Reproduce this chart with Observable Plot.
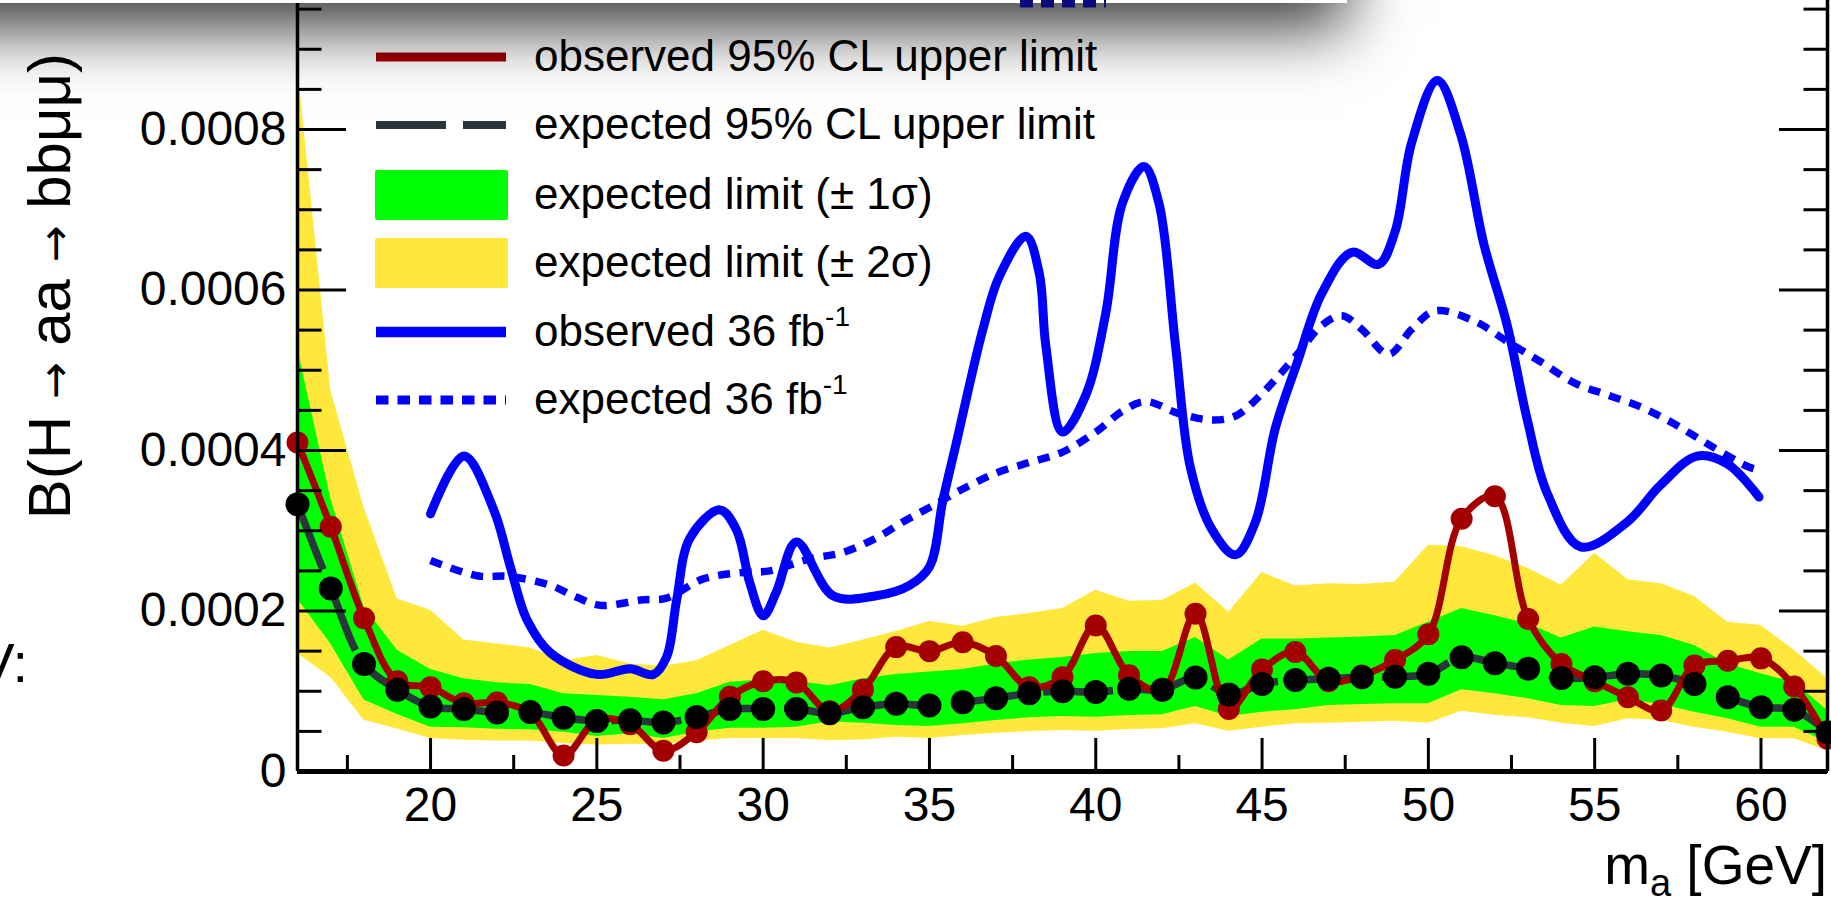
<!DOCTYPE html>
<html>
<head>
<meta charset="utf-8">
<script src="https://cdn.jsdelivr.net/npm/d3@7"></script>
<script src="https://cdn.jsdelivr.net/npm/@observablehq/plot@0.6"></script>
<style>
  html, body { margin: 0; padding: 0; background: #fff; overflow: hidden; }
  #wrap { position: relative; width: 1831px; height: 902px; overflow: hidden; background: #fff;
          font-family: "Liberation Sans", Arial, Helvetica, sans-serif; }
  #chart, #overlay, #topbits { position: absolute; left: 0; top: 0; }
  #shade { position: absolute; left: -100px; top: -200px; width: 1447px; height: 203px; background: #fff;
           box-shadow: 0 25px 62px 0 rgba(0,0,0,0.78); }
</style>
</head>
<body>
<div id="wrap">
  <div id="chart"></div>
  <svg id="overlay" width="1831" height="902"></svg>
  <div id="shade"></div>
  <svg id="topbits" width="1831" height="902"></svg>
</div>
<script>
// ---------------- data (values in units of 1e-4) ----------------
const SCALE = 1e-4;
const masses = [16,17,18,19,20,21,22,23,24,25,26,27,28,29,30,31,32,33,34,35,36,37,38,39,40,
                41,42,43,44,45,46,47,48,49,50,51,52,53,54,55,56,57,58,59,60,61,62];
const expectedLimit = [3.33,2.28,1.34,1.02,0.81,0.78,0.735,0.74,0.67,0.63,0.64,0.61,0.68,0.78,0.78,0.78,
                0.727,0.80,0.843,0.822,0.864,0.914,0.976,1.00,0.99,1.03,1.02,1.17,0.96,1.09,1.14,
                1.155,1.175,1.18,1.217,1.425,1.35,1.28,1.165,1.175,1.217,1.196,1.09,0.926,0.80,0.768,0.49];
const observedLimit = [4.10,3.05,1.91,1.125,1.05,0.85,0.86,0.73,0.20,0.64,0.59,0.26,0.49,0.93,1.125,1.11,
                0.75,1.02,1.55,1.50,1.61,1.44,1.05,1.175,1.82,1.20,1.01,1.965,0.78,1.27,1.49,
                1.125,1.196,1.39,1.71,3.15,3.43,1.90,1.34,1.125,0.926,0.76,1.32,1.38,1.41,1.06,0.41];
const band1Low = [2.15,1.59,0.89,0.71,0.55,0.545,0.525,0.52,0.49,0.436,0.47,0.41,0.49,0.54,0.54,0.55,
                0.62,0.60,0.573,0.56,0.594,0.636,0.669,0.685,0.677,0.698,0.706,0.81,0.685,0.739,0.769,
                0.822,0.835,0.843,0.843,1.02,0.968,0.906,0.822,0.81,0.893,0.835,0.739,0.656,0.552,0.552,0.36];
const band1High = [5.28,3.4,2.05,1.51,1.27,1.155,1.105,1.084,0.968,0.947,0.926,0.893,0.968,1.113,1.142,1.126,
                1.07,1.155,1.21,1.24,1.27,1.34,1.39,1.42,1.47,1.495,1.495,1.67,1.39,1.65,1.65,
                1.665,1.675,1.695,1.86,2.03,1.94,1.84,1.665,1.80,1.74,1.695,1.57,1.34,1.217,1.11,0.76];
const band2Low = [1.47,1.17,0.64,0.53,0.41,0.39,0.38,0.38,0.35,0.33,0.34,0.335,0.38,0.41,0.41,0.41,
                0.386,0.394,0.428,0.41,0.449,0.478,0.498,0.51,0.503,0.523,0.532,0.594,0.503,0.552,0.594,
                0.60,0.615,0.625,0.60,0.752,0.70,0.669,0.60,0.56,0.656,0.636,0.552,0.49,0.407,0.407,0.26];
const band2High = [8.8,4.75,3.29,2.15,2.01,1.64,1.59,1.54,1.38,1.445,1.34,1.31,1.38,1.57,1.76,1.61,
                1.54,1.64,1.745,1.87,1.81,1.92,1.97,2.03,2.26,2.12,2.13,2.35,1.985,2.48,2.31,
                2.34,2.33,2.36,2.82,2.80,2.69,2.53,2.32,2.72,2.39,2.34,2.18,1.86,1.82,1.51,1.155];

const obs36Mass  = [20.0,21.0,21.9,22.4,22.9,23.6,25.0,26.0,26.7,27.1,27.4,27.8,28.7,29.2,29.6,30.0,30.4,31.0,
                    32.1,33.4,34.4,35.0,35.4,35.8,36.6,37.1,37.9,38.3,38.5,39.0,39.7,40.3,40.8,41.45,41.9,
                    42.4,42.85,43.5,44.2,44.8,45.4,46.06,46.8,47.7,48.5,49.0,49.5,50.27,50.97,51.67,52.37,
                    52.97,53.57,54.58,55.98,56.98,58.08,59.0,59.94];
const obs36Value = [3.21,3.93,3.26,2.55,1.89,1.48,1.21,1.28,1.21,1.43,2.14,2.91,3.26,3.01,2.35,1.94,2.24,2.86,
                    2.19,2.19,2.32,2.55,3.37,4.08,5.5,6.17,6.67,6.21,5.30,4.23,4.69,5.71,7.08,7.54,7.08,
                    5.30,3.78,3.01,2.70,3.11,4.28,5.10,5.96,6.47,6.32,6.73,7.84,8.61,7.94,6.57,5.56,
                    4.39,3.47,2.80,3.11,3.57,3.93,3.83,3.42];
const exp36Mass  = [20.0,21.4,22.4,23.6,24.4,25.1,26.4,27.1,28.2,29.4,30.2,31.4,32.4,33.4,34.2,35.0,36.0,37.0,
                    38.0,39.0,40.0,40.8,41.5,42.5,43.5,44.2,45.0,46.06,46.8,47.4,48.0,48.8,49.5,50.2,51.4,
                    52.4,53.4,54.4,55.4,56.4,57.4,58.4,59.6,59.9];
const exp36Value = [2.63,2.44,2.43,2.32,2.17,2.07,2.14,2.16,2.40,2.48,2.50,2.65,2.73,2.91,3.11,3.29,3.52,3.72,
                    3.85,3.98,4.23,4.49,4.61,4.46,4.38,4.43,4.71,5.20,5.56,5.68,5.51,5.20,5.51,5.74,5.61,
                    5.35,5.10,4.84,4.69,4.54,4.33,4.08,3.80,3.76];

const yMajorTicks = [0, 2, 4, 6, 8];
const yMinorTicks = [0.5,1,1.5,2.5,3,3.5,4.5,5,5.5,6.5,7,7.5,8.5,9,9.5];
const xMajorTicks = [20,25,30,35,40,45,50,55,60];
const xMinorTicks = [17.5,22.5,27.5,32.5,37.5,42.5,47.5,52.5,57.5];

const legendLabels = ["observed 95% CL upper limit", "expected 95% CL upper limit",
                      "expected limit (\u00b1 1\u03c3)", "expected limit (\u00b1 2\u03c3)",
                      "observed 36 fb", "expected 36 fb"];

// ---------------- tables ----------------
const rows = masses.map((m, i) => ({m, exp: expectedLimit[i], obs: observedLimit[i],
  lo1: band1Low[i], hi1: band1High[i], lo2: band2Low[i], hi2: band2High[i]}));
const obs36 = obs36Mass.map((m, i) => ({m, v: obs36Value[i]}));
const exp36 = exp36Mass.map((m, i) => ({m, v: exp36Value[i]}));

const FONT = '"Liberation Sans", Arial, Helvetica, sans-serif';
const RED = "#a40000", DARK = "#29363b", GREEN = "#00ff00", YELLOW = "#ffe83b", BLUE = "#0000ff";
const fmt = v => v === 0 ? "0" : (v * SCALE).toFixed(4);

const chart = Plot.plot({
  width: 1831, height: 902,
  marginLeft: 297, marginRight: 4, marginTop: 0, marginBottom: 131,
  x: {domain: [16, 62]},
  y: {domain: [0, 9.6075]},
  style: {fontFamily: FONT, fontSize: "48px", background: "transparent", overflow: "visible"},
  marks: [
    Plot.areaY(rows, {x: "m", y1: "lo2", y2: "hi2", fill: YELLOW}),
    Plot.areaY(rows, {x: "m", y1: "lo1", y2: "hi1", fill: GREEN}),
    Plot.line(obs36, {x: "m", y: "v", stroke: BLUE, strokeWidth: 9, curve: "catmull-rom"}),
    Plot.line(exp36, {x: "m", y: "v", stroke: BLUE, strokeWidth: 7.5, strokeDasharray: "12,9.5",
                      strokeLinecap: "butt", strokeLinejoin: "miter", curve: "catmull-rom"}),
    Plot.line(rows, {x: "m", y: "exp", stroke: DARK, strokeWidth: 7.5, strokeDasharray: "70,17",
                     strokeLinecap: "butt", curve: "catmull-rom"}),
    Plot.line(rows, {x: "m", y: "obs", stroke: RED, strokeWidth: 7, curve: "catmull-rom"}),
    Plot.dot(rows, {x: "m", y: "obs", r: 11, fill: RED}),
    Plot.dot(rows, {x: "m", y: "exp", r: 12, fill: "#000"}),
    // frame
    Plot.ruleX([16], {stroke: "#000", strokeWidth: 3.5}),
    Plot.ruleX([62], {stroke: "#000", strokeWidth: 3.5}),
    Plot.ruleY([0], {stroke: "#000", strokeWidth: 5}),
    // inward ticks
    Plot.axisY({ticks: yMajorTicks, anchor: "left", tickSize: 49, dx: 49, strokeWidth: 3, tickFormat: () => "", label: null}),
    Plot.axisY({ticks: yMinorTicks, anchor: "left", tickSize: 24.5, dx: 24.5, strokeWidth: 3, tickFormat: () => "", label: null}),
    Plot.axisY({ticks: yMajorTicks, anchor: "right", tickSize: 49, dx: -49, strokeWidth: 3, tickFormat: () => "", label: null}),
    Plot.axisY({ticks: yMinorTicks, anchor: "right", tickSize: 24.5, dx: -24.5, strokeWidth: 3, tickFormat: () => "", label: null}),
    Plot.axisX({ticks: xMajorTicks, anchor: "bottom", tickSize: 33, dy: -33, strokeWidth: 3, tickFormat: () => "", label: null}),
    Plot.axisX({ticks: xMinorTicks, anchor: "bottom", tickSize: 16, dy: -16, strokeWidth: 3, tickFormat: () => "", label: null}),
    // tick labels
    Plot.axisY({ticks: yMajorTicks, anchor: "left", tickSize: 0, tickPadding: 11, tickFormat: fmt, fontSize: 48, fill: "#000", label: null}),
    Plot.axisX({ticks: xMajorTicks, anchor: "bottom", tickSize: 0, tickPadding: 15, tickFormat: d => String(d), fontSize: 48, fill: "#000", label: null})
  ]
});
document.getElementById("chart").appendChild(chart);

// ---------------- overlay: titles + legend ----------------
const ov = d3.select("#overlay").attr("font-family", FONT);

// y title (rotated, top-aligned)
const yt = ov.append("text")
  .attr("transform", "translate(70,53) rotate(-90)")
  .attr("text-anchor", "end")
  .attr("font-size", 60);
yt.append("tspan").text("B(H ");
yt.append("tspan").attr("font-family", "DejaVu Sans").attr("font-size", 44).text("\u2192");
yt.append("tspan").text(" aa ");
yt.append("tspan").attr("font-family", "DejaVu Sans").attr("font-size", 44).text("\u2192");
yt.append("tspan").text(" bb\u03bc\u03bc)");

// x title
const xt = ov.append("text").attr("x", 1827).attr("y", 884).attr("text-anchor", "end").attr("font-size", 55);
xt.append("tspan").text("m");
xt.append("tspan").attr("font-size", 38).attr("dy", 12).text("a");
xt.append("tspan").attr("dy", -12).text(" [GeV]");

// clipped text at left edge
ov.append("text").attr("x", 28).attr("y", 682).attr("text-anchor", "end").attr("font-size", 56).text("GeV:");

// legend
const rowY = [57, 125, 195, 263, 332, 400];
const lx0 = 376, lx1 = 506, tx = 534;
ov.append("line").attr("x1", lx0).attr("x2", lx1).attr("y1", rowY[0]).attr("y2", rowY[0])
  .attr("stroke", RED).attr("stroke-width", 9);
ov.append("line").attr("x1", lx0).attr("x2", lx1).attr("y1", rowY[1]).attr("y2", rowY[1])
  .attr("stroke", DARK).attr("stroke-width", 8).attr("stroke-dasharray", "70,17");
ov.append("rect").attr("x", 375).attr("y", rowY[2] - 25).attr("width", 133).attr("height", 50).attr("rx", 2).attr("fill", GREEN);
ov.append("rect").attr("x", 375).attr("y", rowY[3] - 25).attr("width", 133).attr("height", 50).attr("rx", 2).attr("fill", YELLOW);
ov.append("line").attr("x1", lx0).attr("x2", lx1).attr("y1", rowY[4]).attr("y2", rowY[4])
  .attr("stroke", BLUE).attr("stroke-width", 10.5);
ov.append("line").attr("x1", lx0).attr("x2", lx1).attr("y1", rowY[5]).attr("y2", rowY[5])
  .attr("stroke", BLUE).attr("stroke-width", 9).attr("stroke-dasharray", "12.5,9");
legendLabels.forEach((lab, i) => {
  const t = ov.append("text").attr("x", tx).attr("y", rowY[i] + 14).attr("font-size", 44).attr("fill", "#000");
  t.append("tspan").text(lab);
  if (i >= 4) t.append("tspan").attr("font-size", 28).attr("dy", -20).text("-1");
});

// bits of the overlapping panel above the chart
d3.select("#topbits").append("line").attr("x1", 1020).attr("x2", 1106).attr("y1", 3.5).attr("y2", 3.5)
  .attr("stroke", "#0a0a7a").attr("stroke-width", 8).attr("stroke-dasharray", "13,8");
</script>
</body>
</html>
